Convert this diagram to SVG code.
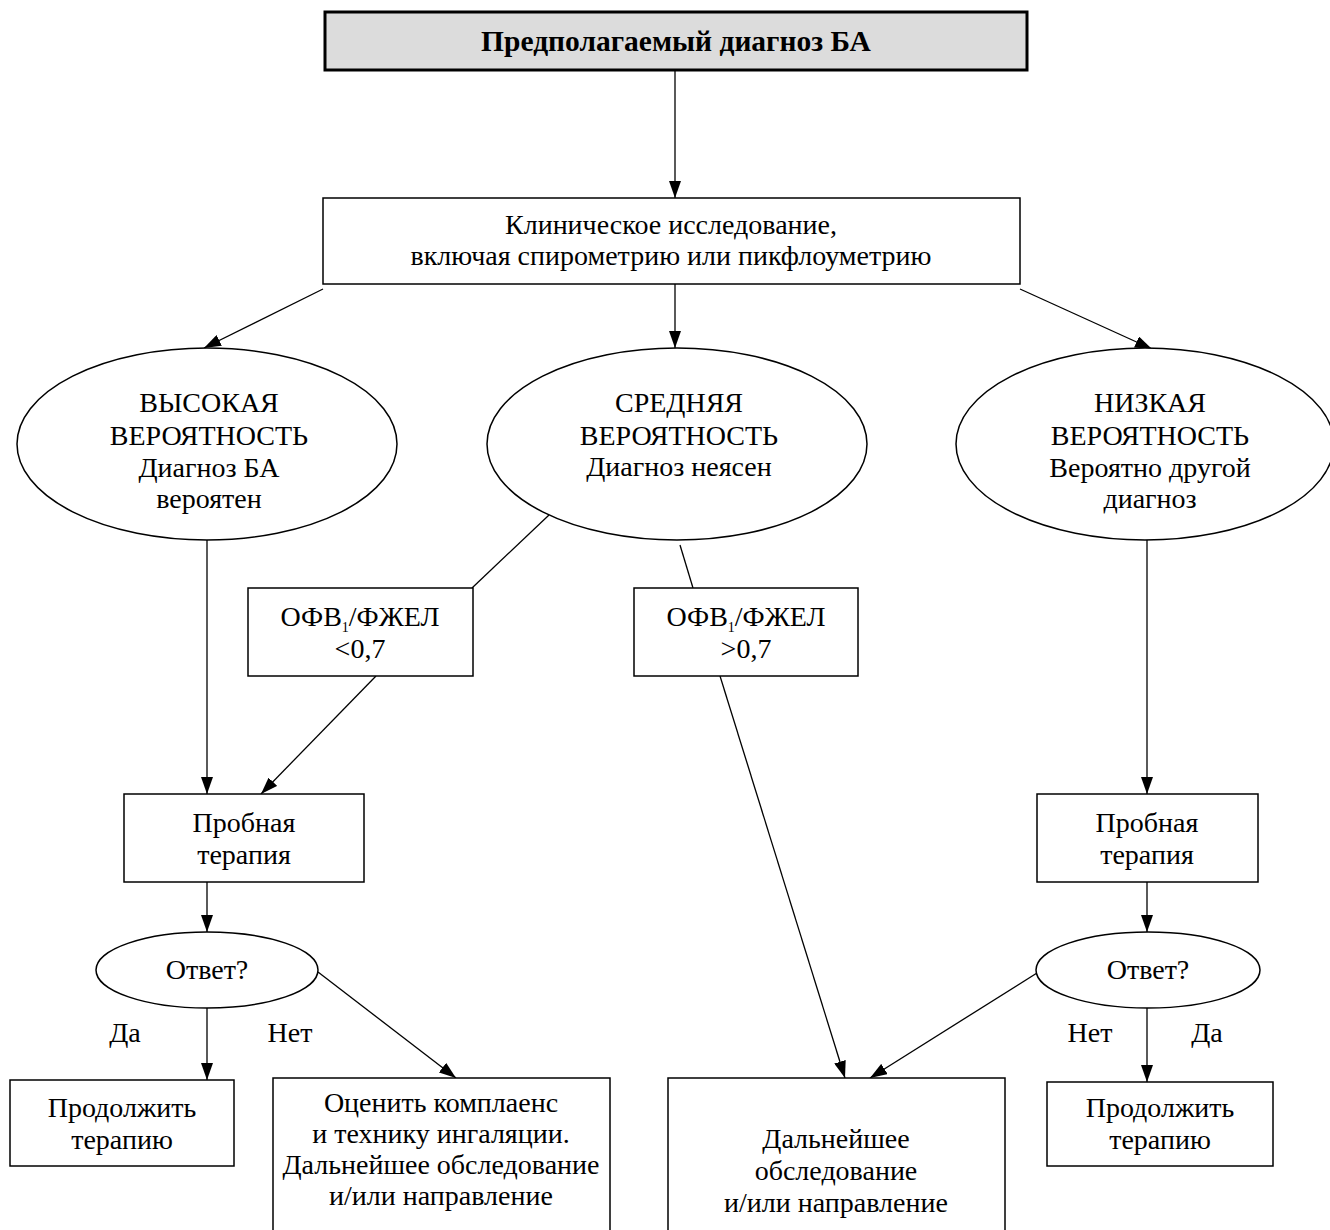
<svg xmlns="http://www.w3.org/2000/svg" width="1330" height="1230" viewBox="0 0 1330 1230">
<style>
  .box { fill: #ffffff; stroke: #000; stroke-width: 1.5; }
  .ell { fill: #ffffff; stroke: #000; stroke-width: 1.5; }
  .title { fill: #dcdcdc; stroke: #000; stroke-width: 3; }
  text { font-family: "Liberation Serif", "Times New Roman", serif; font-size: 28px; fill: #000; text-anchor: middle; }
  .bold { font-weight: bold; font-size: 29.5px; }
  .conn line { stroke: #000; stroke-width: 1.3; fill: none; }
  .arr { marker-end: url(#ah); }
  .sub { font-size: 14px; }
</style>
<defs>
  <marker id="ah" markerUnits="userSpaceOnUse" markerWidth="18" markerHeight="12" refX="17" refY="6" orient="auto">
    <path d="M0,0 L17,6 L0,12 Z" fill="#000"/>
  </marker>
</defs>
<rect width="1330" height="1230" fill="#ffffff"/>

<g id="connectors" class="conn">
  <line class="arr" x1="675" y1="70" x2="675" y2="198"/>
  <line class="arr" x1="323" y1="289" x2="204" y2="348"/>
  <line class="arr" x1="675" y1="284" x2="675" y2="348"/>
  <line class="arr" x1="1020" y1="289" x2="1152" y2="349"/>
  <line x1="549" y1="515" x2="472" y2="588"/>
  <line x1="680" y1="545" x2="693" y2="588"/>
  <line class="arr" x1="207" y1="540" x2="207" y2="794"/>
  <line class="arr" x1="376" y1="676" x2="261" y2="794"/>
  <line class="arr" x1="720" y1="676" x2="845" y2="1078"/>
  <line class="arr" x1="207" y1="882" x2="207" y2="932"/>
  <line class="arr" x1="207" y1="1008" x2="207" y2="1080"/>
  <line class="arr" x1="318" y1="972" x2="456" y2="1078"/>
  <line class="arr" x1="1147" y1="540" x2="1147" y2="794"/>
  <line class="arr" x1="1147" y1="882" x2="1147" y2="932"/>
  <line class="arr" x1="1147" y1="1008" x2="1147" y2="1082"/>
  <line class="arr" x1="1037" y1="973" x2="870" y2="1078"/>
</g>

<g id="n-title">
  <rect class="title" x="325" y="12" width="702" height="58"/>
  <text class="bold" x="676" y="51">Предполагаемый диагноз БА</text>
</g>

<g id="n-clinical">
  <rect class="box" x="323" y="198" width="697" height="86"/>
  <text x="671" y="234">Клиническое исследование,</text>
  <text x="671" y="265">включая спирометрию или пикфлоуметрию</text>
</g>

<g id="n-high">
  <ellipse class="ell" cx="207" cy="444" rx="190" ry="96"/>
  <text x="209" y="412">ВЫСОКАЯ</text>
  <text x="209" y="445">ВЕРОЯТНОСТЬ</text>
  <text x="209" y="477">Диагноз БА</text>
  <text x="209" y="508">вероятен</text>
</g>

<g id="n-mid">
  <ellipse class="ell" cx="677" cy="444" rx="190" ry="96"/>
  <text x="679" y="412">СРЕДНЯЯ</text>
  <text x="679" y="445">ВЕРОЯТНОСТЬ</text>
  <text x="679" y="476">Диагноз неясен</text>
</g>

<g id="n-low">
  <ellipse class="ell" cx="1145" cy="444" rx="189" ry="96"/>
  <text x="1150" y="412">НИЗКАЯ</text>
  <text x="1150" y="445">ВЕРОЯТНОСТЬ</text>
  <text x="1150" y="477">Вероятно другой</text>
  <text x="1150" y="508">диагноз</text>
</g>

<g id="n-lt07">
  <rect class="box" x="248" y="588" width="225" height="88"/>
  <text x="360" y="626">ОФВ<tspan class="sub" dy="6">1</tspan><tspan dy="-6">/ФЖЕЛ</tspan></text>
  <text x="360" y="658">&lt;0,7</text>
</g>

<g id="n-gt07">
  <rect class="box" x="634" y="588" width="224" height="88"/>
  <text x="746" y="626">ОФВ<tspan class="sub" dy="6">1</tspan><tspan dy="-6">/ФЖЕЛ</tspan></text>
  <text x="746" y="658">&gt;0,7</text>
</g>

<g id="n-trial-left">
  <rect class="box" x="124" y="794" width="240" height="88"/>
  <text x="244" y="832">Пробная</text>
  <text x="244" y="864">терапия</text>
</g>

<g id="n-answer-left">
  <ellipse class="ell" cx="207" cy="970" rx="111" ry="38"/>
  <text x="207" y="979">Ответ?</text>
</g>

<g id="n-labels-left">
  <text x="125" y="1042">Да</text>
  <text x="290" y="1042">Нет</text>
</g>

<g id="n-continue-left">
  <rect class="box" x="10" y="1080" width="224" height="86"/>
  <text x="122" y="1117">Продолжить</text>
  <text x="122" y="1149">терапию</text>
</g>

<g id="n-assess">
  <rect class="box" x="273" y="1078" width="337" height="160"/>
  <text x="441" y="1112">Оценить комплаенс</text>
  <text x="441" y="1143">и технику ингаляции.</text>
  <text x="441" y="1174">Дальнейшее обследование</text>
  <text x="441" y="1205">и/или направление</text>
</g>

<g id="n-further">
  <rect class="box" x="668" y="1078" width="337" height="160"/>
  <text x="836" y="1148">Дальнейшее</text>
  <text x="836" y="1180">обследование</text>
  <text x="836" y="1212">и/или направление</text>
</g>

<g id="n-trial-right">
  <rect class="box" x="1037" y="794" width="221" height="88"/>
  <text x="1147" y="832">Пробная</text>
  <text x="1147" y="864">терапия</text>
</g>

<g id="n-answer-right">
  <ellipse class="ell" cx="1148" cy="970" rx="112" ry="38"/>
  <text x="1148" y="979">Ответ?</text>
</g>

<g id="n-labels-right">
  <text x="1090" y="1042">Нет</text>
  <text x="1207" y="1042">Да</text>
</g>

<g id="n-continue-right">
  <rect class="box" x="1047" y="1082" width="226" height="84"/>
  <text x="1160" y="1117">Продолжить</text>
  <text x="1160" y="1149">терапию</text>
</g>
</svg>
